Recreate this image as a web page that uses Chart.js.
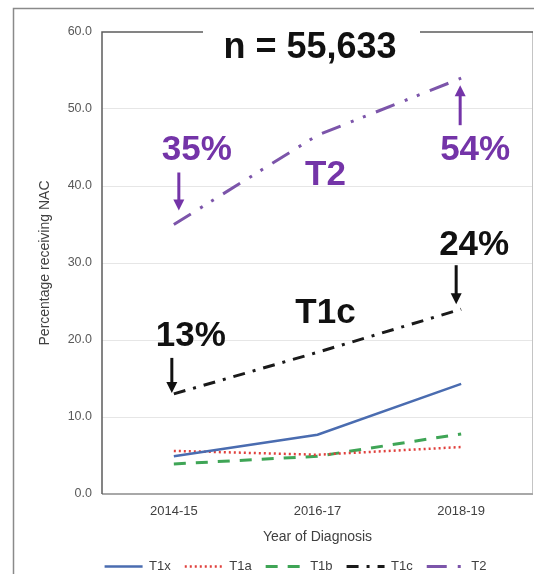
<!DOCTYPE html>
<html>
<head>
<meta charset="utf-8">
<script src="https://cdn.jsdelivr.net/npm/chart.js@4.4.0/dist/chart.umd.min.js"></script>
<style>
  html, body { margin: 0; padding: 0; background: #fff; }
  canvas { display: block; }
</style>
</head>
<body>
<canvas id="chart" width="534" height="574"></canvas>
<script>
const years = ["2014-15", "2016-17", "2018-19"];
const t1x = [4.9, 7.7, 14.3];
const t1a = [5.6, 5.1, 6.1];
const t1b = [3.9, 4.9, 7.8];
const t1c = [13, 18.4, 24];
const t2 = [35, 46.6, 54];
const yMin = 0;
const yMax = 60;
const yStep = 10;
const totalLabel = "n = 55,633";

const purple = "#7434a8";
const textFont = "'Liberation Sans', Arial, sans-serif";

// arrow with a filled head at (x, yTo)
const drawArrow = (ctx, x, yFrom, yTo, color) => {
  const dir = yTo > yFrom ? 1 : -1;
  ctx.save();
  ctx.strokeStyle = color;
  ctx.fillStyle = color;
  ctx.lineWidth = 3;
  ctx.beginPath();
  ctx.moveTo(x, yFrom);
  ctx.lineTo(x, yTo - dir * 9);
  ctx.stroke();
  ctx.beginPath();
  ctx.moveTo(x - 5.5, yTo - dir * 11);
  ctx.lineTo(x + 5.5, yTo - dir * 11);
  ctx.lineTo(x, yTo);
  ctx.closePath();
  ctx.fill();
  ctx.restore();
};

const boldText = (ctx, text, x, y, color, size) => {
  ctx.save();
  ctx.font = `bold ${size}px ${textFont}`;
  ctx.fillStyle = color;
  ctx.textAlign = "center";
  ctx.textBaseline = "middle";
  ctx.fillText(text, x, y);
  ctx.restore();
};

const pct = (v) => `${Math.round(v)}%`;

const framePlugin = {
  id: "frame",
  beforeDraw(chart) {
    const ctx = chart.ctx;
    ctx.save();
    ctx.fillStyle = "#fff";
    ctx.fillRect(0, 0, chart.width, chart.height);
    ctx.strokeStyle = "#8a8a8a";
    ctx.lineWidth = 1.5;
    ctx.strokeRect(13.5, 8.5, 560, 600);
    ctx.restore();
  },
  beforeDatasetsDraw(chart) {
    const { ctx, chartArea: a } = chart;
    ctx.save();
    ctx.lineWidth = 1;
    ctx.strokeStyle = "#c4c4c4";
    ctx.beginPath();
    ctx.moveTo(a.right - 0.5, a.top);
    ctx.lineTo(a.right - 0.5, a.bottom);
    ctx.stroke();
    ctx.lineWidth = 2;
    ctx.strokeStyle = "#a8a8a8";
    ctx.beginPath();
    ctx.moveTo(a.left, a.bottom);
    ctx.lineTo(a.right, a.bottom);
    ctx.stroke();
    ctx.lineWidth = 1.5;
    ctx.strokeStyle = "#5c5c5c";
    ctx.beginPath();
    ctx.moveTo(a.right, a.top);
    ctx.lineTo(a.left, a.top);
    ctx.lineTo(a.left, a.bottom);
    ctx.stroke();
    ctx.restore();
  },
  afterDraw(chart) {
    const { ctx, chartArea: a } = chart;
    const x = chart.scales.x;
    const y = chart.scales.y;

    // sample size, set on a white patch over the top border
    ctx.save();
    ctx.fillStyle = "#fff";
    ctx.fillRect(203, a.top - 4, 217, 8);
    ctx.restore();
    boldText(ctx, totalLabel, 310, 48, "#111", 36);

    // T2 callouts
    let px = x.getPixelForValue(0);
    let py = y.getPixelForValue(t2[0]);
    boldText(ctx, pct(t2[0]), px + 23, py - 74, purple, 35);
    drawArrow(ctx, px + 5, py - 52, py - 14, purple);

    px = x.getPixelForValue(2);
    py = y.getPixelForValue(t2[2]);
    boldText(ctx, pct(t2[2]), px + 14, py + 72, purple, 35);
    drawArrow(ctx, px - 1, py + 47, py + 7, purple);

    px = x.getPixelForValue(1);
    py = y.getPixelForValue(t2[1]);
    boldText(ctx, "T2", px + 8, py + 40, purple, 35);

    // T1c callouts
    px = x.getPixelForValue(0);
    py = y.getPixelForValue(t1c[0]);
    boldText(ctx, pct(t1c[0]), px + 17, py - 58, "#111", 35);
    drawArrow(ctx, px - 2, py - 36, py - 1, "#111");

    px = x.getPixelForValue(2);
    py = y.getPixelForValue(t1c[2]);
    boldText(ctx, pct(t1c[2]), px + 13, py - 64, "#111", 35);
    drawArrow(ctx, px - 5, py - 44, py - 5, "#111");

    px = x.getPixelForValue(1);
    py = y.getPixelForValue(t1c[1]);
    boldText(ctx, "T1c", px + 8, py - 39, "#111", 35);
  },
};

const lineSet = (label, data, color, width, dash) => ({
  label: label,
  data: data,
  borderColor: color,
  backgroundColor: color,
  borderWidth: width,
  borderDash: dash,
  pointRadius: 0,
  tension: 0,
  fill: false,
});

// legend samples keep each series' dash pattern
const legendLabels = (chart) =>
  chart.data.datasets.map((ds, i) => ({
    text: ds.label,
    datasetIndex: i,
    pointStyle: "line",
    strokeStyle: ds.borderColor,
    fillStyle: ds.borderColor,
    lineWidth: ds.borderWidth,
    lineDash: ds.borderDash,
    fontColor: "#404040",
    hidden: false,
  }));

new Chart(document.getElementById("chart"), {
  type: "line",
  data: {
    labels: years,
    datasets: [
      lineSet("T1x", t1x, "#4a6cb0", 2.5, []),
      lineSet("T1a", t1a, "#e0403c", 2.5, [2, 3]),
      lineSet("T1b", t1b, "#3fa556", 3, [12, 10]),
      lineSet("T1c", t1c, "#1a1a1a", 3, [12, 8, 3, 8]),
      lineSet("T2", t2, "#7c55aa", 3, [20, 11, 3, 10, 3, 11]),
    ],
  },
  options: {
    responsive: false,
    devicePixelRatio: 1,
    animation: false,
    layout: { padding: { left: 58, top: 32, right: 1, bottom: -9 } },
    plugins: {
      title: { display: false },
      tooltip: { enabled: false },
      legend: {
        position: "bottom",
        labels: {
          usePointStyle: true,
          pointStyle: "line",
          pointStyleWidth: 38,
          padding: 14,
          color: "#404040",
          font: { family: textFont, size: 13 },
          generateLabels: legendLabels,
        },
      },
    },
    scales: {
      x: {
        offset: true,
        grid: { display: false, drawTicks: false },
        border: { display: false },
        ticks: {
          padding: 10,
          color: "#404040",
          font: { family: textFont, size: 13 },
        },
        title: {
          display: true,
          text: "Year of Diagnosis",
          color: "#404040",
          font: { family: textFont, size: 14 },
          padding: { top: 0, bottom: 0 },
        },
        afterFit: (scale) => {
          scale.height = 52;
        },
      },
      y: {
        min: yMin,
        max: yMax,
        grid: {
          drawTicks: false,
          color: (c) => (c.tick.value === yMin || c.tick.value === yMax ? "rgba(0,0,0,0)" : "#e6e6e6"),
        },
        border: { display: false },
        ticks: {
          stepSize: yStep,
          padding: 10,
          color: "#595959",
          font: { family: textFont, size: 12.5 },
          callback: (v) => v.toFixed(1),
        },
        title: {
          display: true,
          text: "Percentage receiving NAC",
          color: "#404040",
          font: { family: textFont, size: 14 },
          padding: { top: -21, bottom: 0 },
        },
        afterFit: (scale) => {
          scale.width = 44;
        },
      },
    },
  },
  plugins: [framePlugin],
});
</script>
</body>
</html>
